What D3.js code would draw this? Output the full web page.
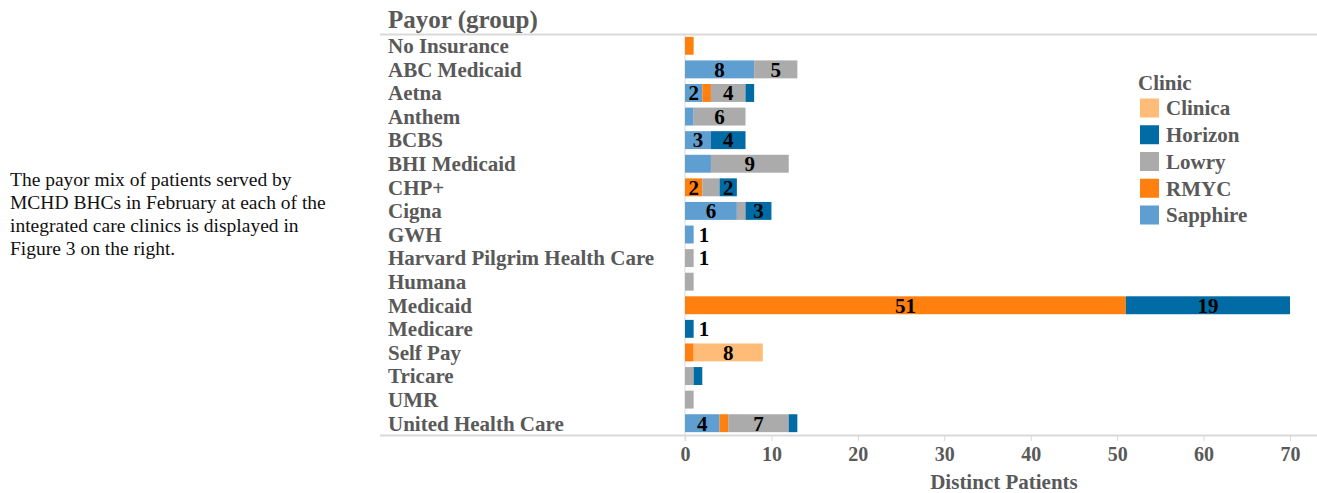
<!DOCTYPE html>
<html>
<head>
<meta charset="utf-8">
<script src="https://cdn.jsdelivr.net/npm/d3@7"></script>
<style>
  body { margin: 0; background: #fff; }
  svg text { font-family: "Liberation Serif", "Times New Roman", serif; }
</style>
</head>
<body>
<div id="chart"></div>
<script>
// payor rows, top to bottom
var payors = ['No Insurance', 'ABC Medicaid', 'Aetna', 'Anthem', 'BCBS', 'BHI Medicaid', 'CHP+', 'Cigna',
  'GWH', 'Harvard Pilgrim Health Care', 'Humana', 'Medicaid', 'Medicare', 'Self Pay', 'Tricare', 'UMR',
  'United Health Care'];

// distinct patients per clinic, one value per payor
var sapphire = [0, 8, 2, 1, 3, 3, 0, 6, 1, 0, 0, 0, 0, 0, 0, 0, 4];
var rmyc     = [1, 0, 1, 0, 0, 0, 2, 0, 0, 0, 0, 51, 0, 1, 0, 0, 1];
var lowry    = [0, 5, 4, 6, 0, 9, 2, 1, 0, 1, 1, 0, 0, 0, 1, 1, 7];
var horizon  = [0, 0, 1, 0, 4, 0, 2, 3, 0, 0, 0, 19, 1, 0, 1, 0, 1];
var clinica  = [0, 0, 0, 0, 0, 0, 0, 0, 0, 0, 0, 0, 0, 8, 0, 0, 0];

// stack order in the bars, and legend order
var stackOrder = ['Sapphire', 'RMYC', 'Lowry', 'Horizon', 'Clinica'];
var legendOrder = ['Clinica', 'Horizon', 'Lowry', 'RMYC', 'Sapphire'];
var colors = {Clinica: '#ffbc79', Horizon: '#006ba4', Lowry: '#ababab', RMYC: '#ff800e', Sapphire: '#5f9ed1'};

var xTicks = [0, 10, 20, 30, 40, 50, 60, 70];
// payors whose single patient gets a label just past the bar
var outsideLabels = ['GWH', 'Harvard Pilgrim Health Care', 'Medicare'];
// segments the original left unlabelled (too narrow)
var hiddenLabels = ['BHI Medicaid|Sapphire', 'CHP+|Lowry'];

var intro = ['The payor mix of patients served by', 'MCHD BHCs in February at each of the',
  'integrated care clinics is displayed in', 'Figure 3 on the right.'];

var width = 1317, height = 493;
var grey = '#595959';
var fs = 21;

var svg = d3.select('#chart').append('svg').attr('width', width).attr('height', height);

// left paragraph
svg.append('g').selectAll('text')
  .data(intro)
  .enter()
  .append('text')
  .attr('x', 10)
  .attr('y', (d, i) => 186 + i * 23)
  .attr('font-size', 19.5)
  .attr('fill', '#111')
  .text(d => d);

var rows = payors.map((p, i) => {
  return {payor: p, Sapphire: sapphire[i], RMYC: rmyc[i], Lowry: lowry[i], Horizon: horizon[i], Clinica: clinica[i]};
});

var x = d3.scaleLinear().domain([0, 70]).range([685, 1290]);
var y = d3.scaleBand().domain(payors).range([34, 435]).paddingInner(0.24).paddingOuter(0.12);

// header
svg.append('text')
  .attr('x', 388).attr('y', 28)
  .attr('font-size', 25).attr('font-weight', 'bold').attr('fill', grey)
  .text('Payor (group)');

svg.append('line').attr('x1', 380).attr('x2', width).attr('y1', 34.5).attr('y2', 34.5)
  .attr('stroke', '#d9d9d9').attr('stroke-width', 2);
svg.append('line').attr('x1', 380).attr('x2', width).attr('y1', 435.5).attr('y2', 435.5)
  .attr('stroke', '#d9d9d9').attr('stroke-width', 2);
svg.append('line').attr('x1', 685).attr('x2', 685).attr('y1', 34).attr('y2', 441)
  .attr('stroke', '#d9d9d9').attr('stroke-width', 1);

// row labels
svg.append('g').selectAll('text')
  .data(payors)
  .enter()
  .append('text')
  .attr('x', 388)
  .attr('y', d => y(d) + y.bandwidth() / 2)
  .attr('dy', '0.35em')
  .attr('font-size', fs).attr('font-weight', 'bold').attr('fill', grey)
  .text(d => d);

// stacked bars
var series = d3.stack().keys(stackOrder)(rows);

var layers = svg.append('g').selectAll('g')
  .data(series)
  .enter()
  .append('g')
  .attr('fill', d => colors[d.key]);

layers.selectAll('rect')
  .data(d => d)
  .enter()
  .append('rect')
  .attr('x', d => x(d[0]))
  .attr('y', d => y(d.data.payor))
  .attr('width', d => x(d[1]) - x(d[0]))
  .attr('height', y.bandwidth());

// segment labels
var labels = [];
series.forEach(s => {
  s.forEach(d => {
    var v = d[1] - d[0];
    if (hiddenLabels.indexOf(d.data.payor + '|' + s.key) >= 0) return;
    if (v >= 2) {
      labels.push({x: (x(d[0]) + x(d[1])) / 2, payor: d.data.payor, v: v, anchor: 'middle'});
    } else if (v === 1 && outsideLabels.indexOf(d.data.payor) >= 0) {
      labels.push({x: x(d[1]) + 5, payor: d.data.payor, v: v, anchor: 'start'});
    }
  });
});

svg.append('g').selectAll('text')
  .data(labels)
  .enter()
  .append('text')
  .attr('x', d => d.x)
  .attr('y', d => y(d.payor) + y.bandwidth() / 2)
  .attr('dy', '0.35em')
  .attr('text-anchor', d => d.anchor)
  .attr('font-size', fs).attr('font-weight', 'bold').attr('fill', '#000')
  .text(d => d.v);

// x axis
var axis = svg.append('g')
  .attr('transform', 'translate(0,435)')
  .call(d3.axisBottom(x).tickValues(xTicks).tickSize(6).tickPadding(6));
axis.select('.domain').remove();
axis.selectAll('line').attr('stroke', '#d9d9d9');
axis.selectAll('text')
  .attr('font-family', '"Liberation Serif", serif')
  .attr('font-size', 20).attr('font-weight', 'bold').attr('fill', grey);

svg.append('text')
  .attr('x', 1004).attr('y', 489)
  .attr('text-anchor', 'middle')
  .attr('font-size', 21).attr('font-weight', 'bold').attr('fill', grey)
  .text('Distinct Patients');

// legend
var legend = svg.append('g').attr('transform', 'translate(1138,0)');
legend.append('text')
  .attr('x', 0).attr('y', 90)
  .attr('font-size', fs).attr('font-weight', 'bold').attr('fill', grey)
  .text('Clinic');

var items = legend.selectAll('g.item')
  .data(legendOrder)
  .enter()
  .append('g')
  .attr('class', 'item')
  .attr('transform', (d, i) => 'translate(0,' + (108 + i * 26.75) + ')');

items.append('rect')
  .attr('x', 2).attr('y', -9.5).attr('width', 19).attr('height', 19)
  .attr('fill', d => colors[d]);

items.append('text')
  .attr('x', 28).attr('dy', '0.35em')
  .attr('font-size', fs).attr('font-weight', 'bold').attr('fill', grey)
  .text(d => d);
</script>
</body>
</html>
